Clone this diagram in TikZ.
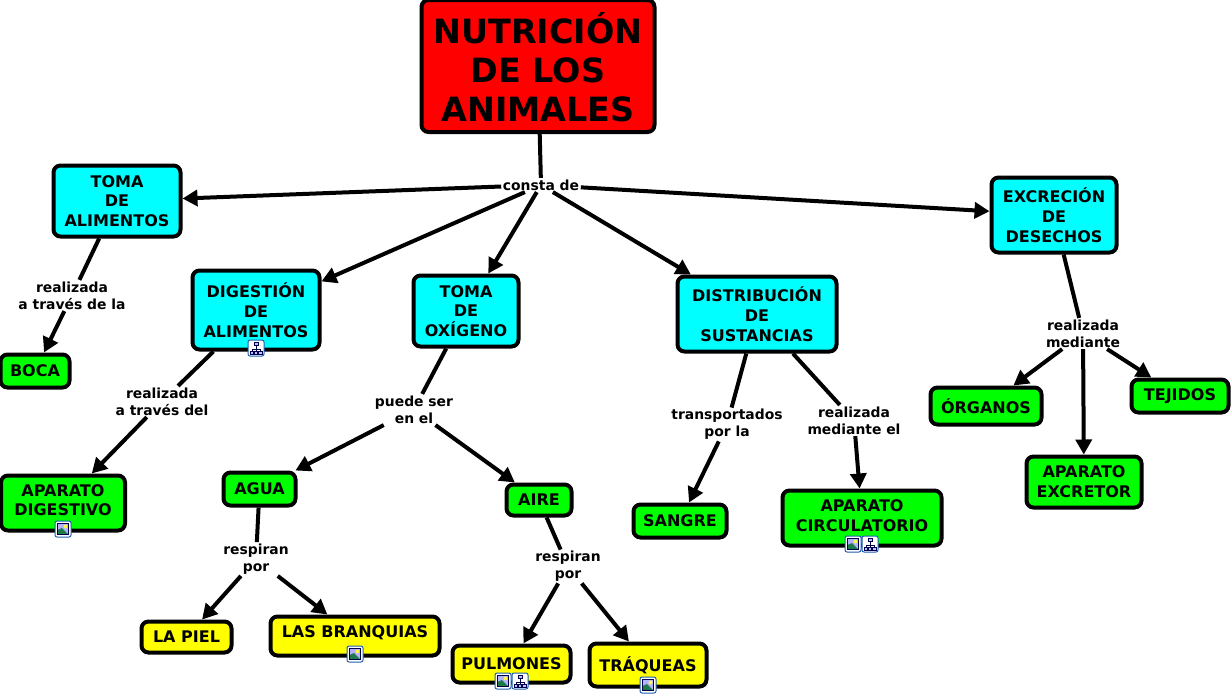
\documentclass[tikz,border=0pt]{standalone}
\usepackage{fontspec}
\setmainfont{DejaVu Sans}
\usetikzlibrary{arrows.meta}
\definecolor{iconblue}{HTML}{1F5FB0}
\definecolor{iconhill}{HTML}{1F7A4A}
\definecolor{boxred}{RGB}{255,0,0}
\definecolor{boxcyan}{RGB}{0,255,255}
\definecolor{boxgreen}{RGB}{0,255,0}
\definecolor{boxyellow}{RGB}{255,255,0}
\tikzset{
  concept/.style={draw=black, line width=4pt, rounded corners=7pt, align=center,
    inner sep=0pt, text=black, font=\bfseries\fontsize{16}{19.7}\selectfont},
  rootbox/.style={concept, fill=boxred, font=\bfseries\fontsize{33.4}{39}\selectfont},
  topic/.style={concept, fill=boxcyan},
  leaf/.style={concept, fill=boxgreen},
  organ/.style={concept, fill=boxyellow},
  phrase/.style={align=center, inner sep=1.5pt, text=black,
    font=\bfseries\fontsize{13.9}{17}\selectfont},
  line/.style={line width=4pt},
  arr/.style={line, -{Triangle[length=15pt,width=16pt]}},
  imgicon/.pic={
    \draw[iconblue, fill=white, line width=1pt, rounded corners=2pt] (-8,-8) rectangle (8,8);
    \fill[blue!30!white] (-5.5,-5.5) rectangle (5.5,5.5);
    \fill[iconhill] (-5.5,5.5) -- (-5.5,1) -- (-1,-1) -- (5.5,5.5) -- cycle;
    \fill[yellow!70!white] (2.5,-2.5) circle (2);
    \draw[black!70!blue, line width=.6pt] (-5.5,-5.5) rectangle (5.5,5.5);
  },
  treeicon/.pic={
    \draw[iconblue, fill=white, line width=1pt, rounded corners=2pt] (-8,-8) rectangle (8,8);
    \draw[black!70!blue, line width=.7pt] (0,-3) -- (0,3) (-4,3) -- (-4,1) -- (4,1) -- (4,3);
    \draw[black!70!blue, fill=blue!25!white, line width=.7pt] (-2,-6) rectangle (2,-2.5)
      (-6,3) rectangle (-2.5,6) (-1.5,3) rectangle (1.5,6) (2.5,3) rectangle (6,6);
  }
}
\begin{document}
\begin{tikzpicture}[x=1pt, y=-1pt]
  \useasboundingbox (0,0) rectangle (1232,697);
  \node[rootbox, minimum width=233pt, minimum height=132pt] (root) at (538,66) {\rule{0pt}{33pt}NUTRICIÓN\\DE LOS\\ANIMALES};
  \node[topic, minimum width=127pt, minimum height=71pt] (toma) at (117,201) {TOMA\\DE\\ALIMENTOS};
  \node[topic, minimum width=127pt, minimum height=79pt] (digest) at (256,310) {DIGESTIÓN\\DE\\ALIMENTOS};
  \node[topic, minimum width=105pt, minimum height=71pt] (oxigeno) at (466,311) {TOMA\\DE\\OXÍGENO};
  \node[topic, minimum width=159pt, minimum height=75pt] (distrib) at (757,314) {DISTRIBUCIÓN\\DE\\SUSTANCIAS};
  \node[topic, minimum width=125pt, minimum height=75pt] (excrec) at (1054,215) {EXCRECIÓN\\DE\\DESECHOS};
  \node[leaf, minimum width=69pt, minimum height=33pt] (boca) at (35,371) {BOCA};
  \node[leaf, minimum width=124pt, minimum height=55pt] (apdig) at (63,503) {APARATO\\DIGESTIVO\\[-13.7pt]};
  \node[leaf, minimum width=72pt, minimum height=33pt] (agua) at (259.5,489) {AGUA};
  \node[leaf, minimum width=65pt, minimum height=31pt] (aire) at (539,500) {AIRE};
  \node[leaf, minimum width=93pt, minimum height=33pt] (sangre) at (680,521) {SANGRE};
  \node[leaf, minimum width=159pt, minimum height=55pt] (apcirc) at (862,518) {APARATO\\CIRCULATORIO\\[-14.7pt]};
  \node[leaf, minimum width=111pt, minimum height=37pt] (organos) at (986,406) {ÓRGANOS};
  \node[leaf, minimum width=115pt, minimum height=51pt] (apexc) at (1084,482) {APARATO\\EXCRETOR};
  \node[leaf, minimum width=97pt, minimum height=33pt] (tejidos) at (1180,396) {TEJIDOS};
  \node[organ, minimum width=90pt, minimum height=31pt] (piel) at (186.5,637) {LA PIEL};
  \node[organ, minimum width=169pt, minimum height=39pt] (branq) at (355,636) {LAS BRANQUIAS\\[-11.7pt]};
  \node[organ, minimum width=118pt, minimum height=37pt] (pulm) at (511.5,664) {PULMONES};
  \node[organ, minimum width=117pt, minimum height=43pt] (traq) at (648,665) {TRÁQUEAS};

  \node[phrase] (consta) at (541,185) {consta de};
  \node[phrase] (viala) at (72,295.5) {realizada\\a través de la};
  \node[phrase] (viadel) at (162,401.5) {realizada\\a través del};
  \node[phrase] (puede) at (414,409.5) {puede ser\\en el};
  \node[phrase] (respa) at (256,559) {respiran\\por};
  \node[phrase] (respb) at (568,566.5) {respiran\\por};
  \node[phrase] (transp) at (727,424.5) {transportados\\por la};
  \node[phrase] (medel) at (854,420.5) {realizada\\mediante el};
  \node[phrase] (med) at (1083,333.5) {realizada\\mediante};

  \draw[line] (root) -- (consta);
  \draw[arr] (consta) -- (toma);
  \draw[arr] (consta) -- (digest);
  \draw[arr] (consta) -- (oxigeno);
  \draw[arr] (consta) -- (distrib);
  \draw[arr] (consta) -- (excrec);
  \draw[line] (toma) -- (viala);
  \draw[arr] (viala) -- (boca);
  \draw[line] (digest) -- (viadel);
  \draw[arr] (viadel) -- (apdig);
  \draw[line] (oxigeno) -- (puede);
  \draw[arr] (puede) -- (agua);
  \draw[arr] (puede) -- (aire);
  \draw[line] (agua) -- (respa);
  \draw[arr] (respa) -- (piel);
  \draw[arr] (respa) -- (branq);
  \draw[line] (aire) -- (respb);
  \draw[arr] (respb) -- (pulm);
  \draw[arr] (respb) -- (traq);
  \draw[line] (distrib) -- (transp);
  \draw[arr] (transp) -- (sangre);
  \draw[line] (distrib) -- (medel);
  \draw[arr] (medel) -- (apcirc);
  \draw[line] (excrec) -- (med);
  \draw[arr] (med) -- (organos);
  \draw[arr] (med) -- (apexc);
  \draw[arr] (med) -- (tejidos);

  \pic at (256,348) {treeicon};
  \pic at (63,529) {imgicon};
  \pic at (853,544) {imgicon};
  \pic at (870,544) {treeicon};
  \pic at (355,654) {imgicon};
  \pic at (503,681) {imgicon};
  \pic at (520,681) {treeicon};
  \pic at (648,685) {imgicon};
\end{tikzpicture}
\end{document}
